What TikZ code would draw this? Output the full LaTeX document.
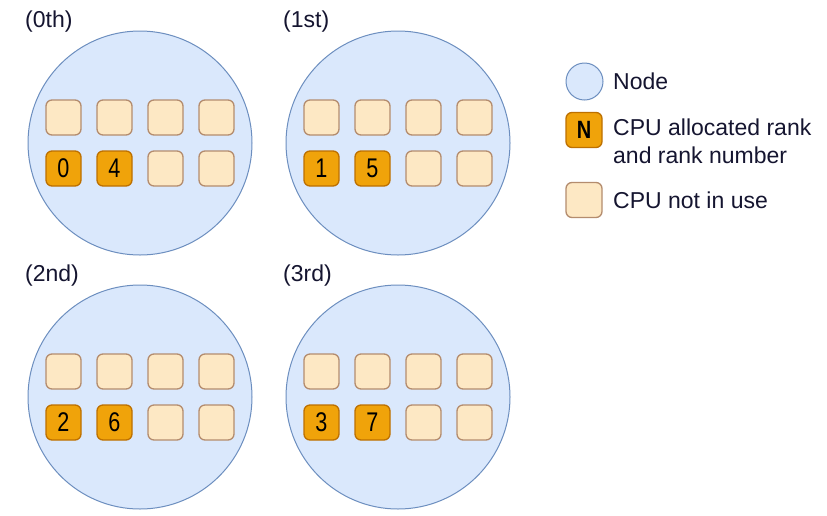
\documentclass[tikz,border=0pt]{standalone}
\usepackage{fontspec}
\setmainfont{Liberation Sans}
\newfontfamily\digitfam[FakeStretch=0.8]{Liberation Sans}
\definecolor{nodefill}{HTML}{DAE8FC}
\definecolor{nodestroke}{HTML}{6C8EBF}
\definecolor{freefill}{HTML}{FDE8C4}
\definecolor{freestroke}{HTML}{B48C6E}
\definecolor{rankfill}{HTML}{F0A30A}
\definecolor{rankstroke}{HTML}{BD7000}
\definecolor{txt}{HTML}{151530}
\begin{document}
\begin{tikzpicture}[x=1pt,y=-1pt,
  nodecirc/.style={circle, draw=nodestroke, fill=nodefill, line width=1pt, minimum size=224pt, inner sep=0pt},
  freecpu/.style={draw=freestroke, fill=freefill, rounded corners=6pt, minimum width=35pt, minimum height=35pt, line width=1.3pt, inner sep=0pt},
  rankcpu/.style={freecpu, draw=rankstroke, fill=rankfill, font=\digitfam\fontsize{27}{30}\selectfont},
  lbl/.style={anchor=base west, inner sep=0pt, text=txt, font=\fontsize{23}{27.6}\selectfont}
]
\useasboundingbox (0,0) rectangle (827,515);
\fill[white] (0,0) rectangle (827,515);

\foreach \i/\cx/\cy/\lab/\ra/\rb in {0/140/143/0th/0/4, 1/398/143/1st/1/5, 2/140/397/2nd/2/6, 3/398/397/3rd/3/7}{
  \node[nodecirc] (n\i) at (\cx,\cy) {};
  \node[lbl] (t\i) at (\cx-115,\cy-116) {(\lab)};
  \foreach \k in {1,2,3,4}{
    \node[freecpu] (c\i-1-\k) at ({\cx+(\k-2.5)*51},{\cy-25.5}) {};
  }
  \node[rankcpu] (c\i-2-1) at ({\cx-76.5},{\cy+25.5}) {\ra};
  \node[rankcpu] (c\i-2-2) at ({\cx-25.5},{\cy+25.5}) {\rb};
  \node[freecpu] (c\i-2-3) at ({\cx+25.5},{\cy+25.5}) {};
  \node[freecpu] (c\i-2-4) at ({\cx+76.5},{\cy+25.5}) {};
}

% legend
\node[circle, draw=nodestroke, fill=nodefill, line width=1pt, minimum size=37pt, inner sep=0pt] (lgnode) at (584.5,81.5) {};
\node[lbl] (lgnodet) at (613,89) {Node};
\node[freecpu, draw=rankstroke, fill=rankfill, minimum width=36pt, font=\digitfam\bfseries\fontsize{25}{28}\selectfont] (lgrank) at (584,130) {N};
\node[lbl, align=left] (lgrankt) at (613,163) {CPU allocated rank\\and rank number};
\node[freecpu, minimum width=36pt] (lgfree) at (584,200) {};
\node[lbl] (lgfreet) at (613,208) {CPU not in use};
\end{tikzpicture}
\end{document}
